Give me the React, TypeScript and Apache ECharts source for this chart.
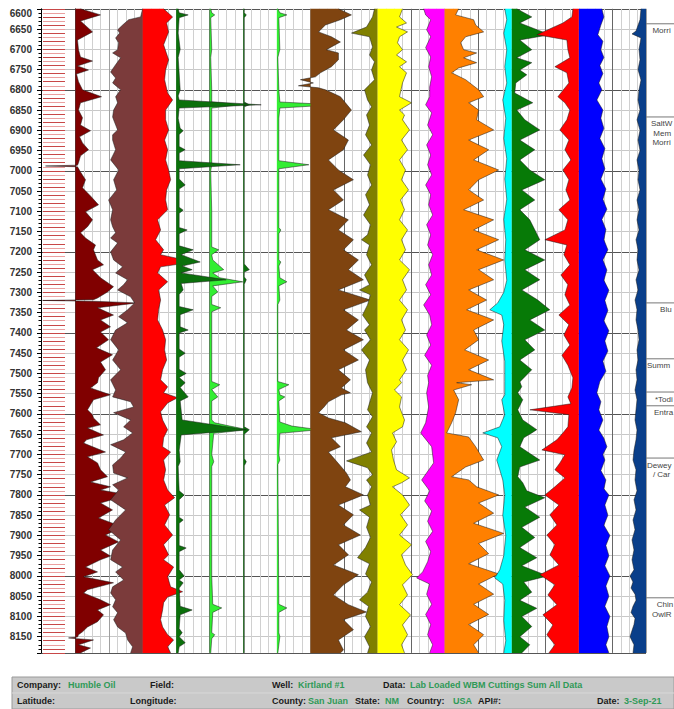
import React, { useEffect, useRef } from 'react';
import * as echarts from 'echarts';

// ---------- depth range ----------
const DEPTH_TOP = 6600;
const DEPTH_BOTTOM = 8190;

// ---------- curve data: [depth (ft), reading] ----------
const maroonCurve = [[6600,5],[6615,25],[6630,5],[6657,17],[6677,2],[6701,3],[6719,5],[6729,17],[6741,2],[6751,13],[6761,1],[6780,3],[6800,7],[6817,26],[6832,5],[6850,3],[6869,7],[6887,5],[6901,15],[6916,4],[6931,7],[6948,13],[6963,5],[6980,3],[6986,2],[6988,-30],[6990,2],[7003,5],[7022,10],[7042,7],[7062,15],[7084,23],[7101,10],[7121,17],[7138,12],[7153,5],[7166,10],[7183,20],[7195,18],[7220,22],[7232,28],[7244,17],[7264,25],[7286,38],[7299,32],[7314,22],[7318,18],[7320,-33],[7322,18],[7326,62],[7338,22],[7356,38],[7368,25],[7385,35],[7398,25],[7417,33],[7437,21],[7454,37],[7472,25],[7491,30],[7511,23],[7523,22],[7536,15],[7553,35],[7565,18],[7590,12],[7602,17],[7610,18],[7627,25],[7635,12],[7652,28],[7664,11],[7672,8],[7694,30],[7706,12],[7721,22],[7738,25],[7755,32],[7768,15],[7780,35],[7788,25],[7800,53],[7820,25],[7837,37],[7857,23],[7879,47],[7899,30],[7916,43],[7936,25],[7951,35],[7960,25],[7978,10],[7990,22],[8002,8],[8017,38],[8034,12],[8042,8],[8059,25],[8071,35],[8084,22],[8096,28],[8113,22],[8126,12],[8138,7],[8145,3],[8151,2],[8153,-7],[8155,2],[8158,18],[8170,3],[8178,15],[8190,5]];
const rosyCurve = [[6600,0],[6620,2],[6627,14],[6640,20],[6652,25],[6660,23],[6672,27],[6684,24],[6701,25],[6709,30],[6721,22],[6738,27],[6756,32],[6771,27],[6783,30],[6800,22],[6817,27],[6832,25],[6850,29],[6867,30],[6874,29],[6899,25],[6911,30],[6924,30],[6948,27],[6973,32],[6998,24],[7022,29],[7047,26],[7072,34],[7096,30],[7121,32],[7138,30],[7153,27],[7166,32],[7178,25],[7200,32],[7220,29],[7237,20],[7252,27],[7269,15],[7281,19],[7294,25],[7311,12],[7326,8],[7343,15],[7360,24],[7375,15],[7393,27],[7417,32],[7442,24],[7467,30],[7491,22],[7516,32],[7541,27],[7558,30],[7570,12],[7583,9],[7597,29],[7615,12],[7632,19],[7647,10],[7664,19],[7676,32],[7694,17],[7709,22],[7726,30],[7746,29],[7758,15],[7775,30],[7788,24],[7812,32],[7837,17],[7862,27],[7886,34],[7911,22],[7936,30],[7960,32],[7978,20],[7990,27],[8010,19],[8027,30],[8042,32],[8059,27],[8076,30],[8091,25],[8108,29],[8126,25],[8141,17],[8158,15],[8175,10],[8190,12]];
const redCurve = [[6600,21],[6620,30],[6635,24],[6657,26],[6689,21],[6726,26],[6751,23],[6775,22],[6808,25],[6825,30],[6850,23],[6874,23],[6899,26],[6924,22],[6948,25],[6973,23],[6998,26],[7022,28],[7047,24],[7072,23],[7096,25],[7121,15],[7146,18],[7170,13],[7195,21],[7207,18],[7225,51],[7237,18],[7252,15],[7274,25],[7294,16],[7319,18],[7343,16],[7368,15],[7393,20],[7417,23],[7442,22],[7467,24],[7491,20],[7516,18],[7533,25],[7548,21],[7560,35],[7573,25],[7595,18],[7615,20],[7639,25],[7659,21],[7681,20],[7694,28],[7714,21],[7738,23],[7763,21],[7788,25],[7807,32],[7825,22],[7849,27],[7874,22],[7899,30],[7923,21],[7948,26],[7960,21],[7978,31],[8002,25],[8027,28],[8039,40],[8052,25],[8066,21],[8084,20],[8108,18],[8126,20],[8145,25],[8158,31],[8175,25],[8190,28]];
const darkGreenCurve1 = [[6600,2],[6610,3],[6615,12],[6622,3],[6660,2],[6700,4],[6720,2],[6800,4],[6815,2],[6825,3],[6837,85],[6845,3],[6870,2],[6895,4],[6901,7],[6910,3],[6940,3],[6948,9],[6956,3],[6975,3],[6985,64],[6995,3],[7020,3],[7035,9],[7045,3],[7090,3],[7097,7],[7105,3],[7140,3],[7146,11],[7155,3],[7185,3],[7195,17],[7207,5],[7225,24],[7235,6],[7244,16],[7252,5],[7269,50],[7278,5],[7294,7],[7305,3],[7335,3],[7343,17],[7355,4],[7385,4],[7393,12],[7400,3],[7440,3],[7450,9],[7460,3],[7490,3],[7500,10],[7510,3],[7523,9],[7535,4],[7558,12],[7568,4],[7615,6],[7639,70],[7652,5],[7690,3],[7718,4],[7730,2],[7790,3],[7800,8],[7812,3],[7855,3],[7862,7],[7870,3],[7925,3],[7931,10],[7940,3],[7985,3],[8000,8],[8010,3],[8017,7],[8030,3],[8075,4],[8084,16],[8096,4],[8130,3],[8140,6],[8150,3],[8165,9],[8175,3],[8190,2]];
const lightGreenCurve1 = [[6600,1],[6610,2],[6615,5],[6622,1],[6700,2],[6720,1],[6800,2],[6830,2],[6837,30],[6845,2],[6985,2],[7000,1],[7100,2],[7188,2],[7195,9],[7207,2],[7220,3],[7244,14],[7252,3],[7264,10],[7274,33],[7284,3],[7299,8],[7310,2],[7330,2],[7338,11],[7348,2],[7400,2],[7520,2],[7528,10],[7540,2],[7558,8],[7568,2],[7615,2],[7622,5],[7630,20],[7639,38],[7648,4],[7700,2],[7718,4],[7730,2],[7900,2],[8000,2],[8070,3],[8079,12],[8090,3],[8140,2],[8145,5],[8155,2],[8190,1]];
const darkGreenCurve2 = [[6600,1],[6610,1],[6615,3],[6622,1],[6830,1],[6837,6],[6842,1],[7230,1],[7244,6],[7250,1],[7262,1],[7269,3],[7280,1],[7632,1],[7639,6],[7650,1],[7710,1],[7718,3],[7728,1],[8190,1]];
const lightGreenCurve2 = [[6600,1],[6610,3],[6615,10],[6622,2],[6700,3],[6720,1],[6800,2],[6830,3],[6837,57],[6845,3],[6870,2],[6975,2],[6985,32],[6995,2],[7140,2],[7146,4],[7155,2],[7220,2],[7225,4],[7235,2],[7264,3],[7274,10],[7284,2],[7319,3],[7330,1],[7520,1],[7528,12],[7540,2],[7553,3],[7558,8],[7568,2],[7620,3],[7630,15],[7639,42],[7648,3],[7700,2],[7714,3],[7725,1],[8070,2],[8079,10],[8090,2],[8140,2],[8150,3],[8190,1]];
const brownCurve = [[6600,28],[6615,41],[6627,30],[6640,15],[6657,8],[6669,21],[6682,30],[6694,21],[6701,16],[6709,28],[6726,28],[6743,21],[6758,10],[6768,5],[6775,-10],[6783,3],[6790,-12],[6795,8],[6800,15],[6817,30],[6832,35],[6850,41],[6874,33],[6899,23],[6924,38],[6948,33],[6973,18],[6998,28],[7022,43],[7047,23],[7072,33],[7096,18],[7121,38],[7146,28],[7170,43],[7195,33],[7220,48],[7244,38],[7269,53],[7294,28],[7319,60],[7343,33],[7368,48],[7393,36],[7417,53],[7442,33],[7467,48],[7491,28],[7516,40],[7536,31],[7548,40],[7553,31],[7570,18],[7585,13],[7597,8],[7610,18],[7622,35],[7644,51],[7659,21],[7681,30],[7694,18],[7714,25],[7731,31],[7746,36],[7763,40],[7780,35],[7800,53],[7825,28],[7849,43],[7874,33],[7899,50],[7923,28],[7948,38],[7973,23],[7997,48],[8022,33],[8047,23],[8071,38],[8089,56],[8108,33],[8133,43],[8158,28],[8183,33],[8190,30]];
const oliveCurve = [[6600,3],[6620,5],[6645,11],[6660,26],[6669,8],[6694,5],[6714,8],[6731,3],[6751,6],[6775,3],[6800,13],[6825,10],[6842,6],[6862,11],[6887,8],[6911,12],[6936,6],[6961,14],[6985,7],[7010,10],[7035,6],[7059,12],[7084,8],[7109,14],[7133,7],[7158,10],[7170,16],[7183,8],[7207,11],[7232,6],[7257,13],[7281,8],[7294,18],[7306,7],[7331,10],[7356,15],[7380,8],[7393,13],[7417,7],[7442,16],[7467,8],[7491,12],[7523,10],[7548,5],[7573,8],[7590,10],[7607,5],[7632,11],[7647,6],[7672,11],[7694,6],[7716,31],[7733,10],[7750,5],[7763,11],[7780,6],[7800,10],[7825,7],[7837,18],[7855,8],[7880,11],[7905,7],[7930,12],[7955,20],[7970,8],[7995,12],[8015,6],[8040,10],[8059,18],[8075,9],[8100,12],[8125,7],[8150,13],[8175,8],[8190,10]];
const yellowCurve = [[6600,25],[6620,22],[6635,29],[6645,19],[6657,30],[6669,22],[6684,20],[6701,25],[6714,19],[6731,29],[6743,22],[6758,29],[6783,25],[6817,22],[6832,34],[6850,22],[6862,27],[6874,25],[6899,32],[6924,24],[6948,30],[6973,22],[6998,28],[7022,24],[7047,31],[7072,23],[7096,27],[7121,22],[7146,30],[7170,24],[7195,28],[7220,22],[7244,32],[7269,25],[7294,29],[7319,22],[7343,30],[7368,24],[7393,28],[7417,22],[7442,31],[7467,25],[7491,29],[7516,22],[7523,24],[7541,17],[7558,24],[7583,22],[7615,27],[7632,25],[7647,15],[7669,19],[7689,14],[7714,16],[7738,19],[7758,32],[7770,24],[7780,15],[7800,25],[7825,32],[7849,23],[7874,30],[7899,22],[7923,34],[7948,24],[7973,28],[7997,35],[8022,25],[8047,30],[8071,22],[8096,33],[8121,25],[8145,30],[8170,24],[8190,27]];
const magentaCurve = [[6600,21],[6615,19],[6627,14],[6652,18],[6669,14],[6696,19],[6719,14],[6743,16],[6768,13],[6793,15],[6817,15],[6837,19],[6857,13],[6887,17],[6911,12],[6936,18],[6961,14],[6985,17],[7010,13],[7035,19],[7059,14],[7084,16],[7109,12],[7133,18],[7158,14],[7183,17],[7207,12],[7232,16],[7257,13],[7281,19],[7306,14],[7331,21],[7356,15],[7380,13],[7405,18],[7430,14],[7455,20],[7480,13],[7505,17],[7523,16],[7548,18],[7583,16],[7622,19],[7647,24],[7681,13],[7721,11],[7763,23],[7790,15],[7815,20],[7840,13],[7865,17],[7890,12],[7915,19],[7940,14],[7965,17],[7990,22],[8005,28],[8020,15],[8045,18],[8070,13],[8095,19],[8120,14],[8145,17],[8170,12],[8190,15]];
const orangeCurve = [[6600,14],[6615,11],[6627,29],[6640,31],[6657,39],[6669,21],[6684,16],[6701,19],[6709,32],[6721,19],[6733,32],[6746,14],[6758,7],[6775,21],[6800,34],[6817,39],[6832,24],[6850,34],[6874,32],[6899,49],[6924,24],[6948,44],[6973,29],[6998,54],[7022,34],[7047,24],[7072,39],[7096,19],[7121,49],[7146,29],[7170,54],[7195,32],[7220,59],[7244,34],[7269,49],[7294,24],[7319,42],[7343,22],[7368,49],[7393,29],[7417,34],[7442,20],[7467,44],[7491,24],[7516,49],[7523,12],[7528,27],[7541,9],[7565,14],[7597,11],[7622,7],[7647,2],[7657,24],[7681,31],[7714,39],[7731,21],[7755,7],[7763,24],[7780,32],[7800,54],[7820,34],[7845,49],[7870,29],[7895,59],[7920,34],[7945,44],[7970,24],[7995,54],[8020,34],[8045,49],[8070,29],[8095,44],[8120,24],[8145,39],[8170,29],[8190,34]];
const cyanCurve = [[6600,7],[6627,5],[6660,8],[6701,5],[6743,7],[6783,5],[6825,9],[6870,6],[6920,8],[6970,5],[7020,7],[7070,5],[7120,8],[7170,6],[7220,7],[7270,5],[7300,8],[7326,14],[7343,22],[7356,10],[7380,8],[7420,10],[7470,7],[7520,7],[7553,7],[7565,10],[7602,7],[7632,12],[7647,29],[7659,14],[7681,10],[7714,15],[7738,12],[7763,9],[7800,7],[7850,9],[7900,6],[7950,8],[7985,12],[8005,17],[8020,9],[8060,7],[8110,8],[8160,6],[8190,8]];
const greenCurve = [[6600,5],[6620,20],[6635,8],[6664,38],[6677,8],[6701,20],[6721,5],[6733,20],[6751,8],[6763,15],[6783,4],[6808,3],[6832,21],[6850,5],[6874,13],[6899,28],[6924,8],[6948,23],[6973,8],[6998,18],[7022,33],[7047,10],[7072,23],[7096,8],[7121,18],[7170,28],[7195,13],[7220,33],[7244,13],[7269,28],[7294,10],[7319,26],[7343,38],[7368,18],[7393,33],[7417,13],[7442,23],[7467,8],[7491,20],[7521,8],[7533,10],[7548,6],[7565,11],[7590,6],[7615,11],[7639,25],[7647,20],[7659,12],[7681,8],[7714,28],[7731,8],[7755,6],[7770,11],[7790,15],[7807,33],[7830,13],[7855,28],[7880,10],[7905,23],[7930,8],[7955,25],[7975,10],[8000,36],[8015,12],[8040,20],[8060,8],[8080,25],[8100,10],[8125,20],[8150,8],[8170,18],[8190,10]];
const red2Curve = [[6600,6],[6620,7],[6635,16],[6664,42],[6677,12],[6701,11],[6721,9],[6743,24],[6758,12],[6783,10],[6817,21],[6832,14],[6850,9],[6874,12],[6899,19],[6924,10],[6948,14],[6973,8],[6998,16],[7022,10],[7047,13],[7072,9],[7096,20],[7121,11],[7146,14],[7170,34],[7183,12],[7207,15],[7232,9],[7257,18],[7281,11],[7306,14],[7331,9],[7356,20],[7380,10],[7405,15],[7430,9],[7455,17],[7480,11],[7511,6],[7536,7],[7558,11],[7575,8],[7590,49],[7602,10],[7632,11],[7647,16],[7664,22],[7689,37],[7701,14],[7721,19],[7738,24],[7758,14],[7780,24],[7800,34],[7825,20],[7849,29],[7874,22],[7899,32],[7923,24],[7948,29],[7973,20],[7997,39],[8022,24],[8047,31],[8071,22],[8096,36],[8121,26],[8145,32],[8170,24],[8190,30]];
const blueCurve = [[6600,23],[6620,25],[6640,22],[6664,19],[6680,24],[6701,22],[6720,25],[6740,21],[6760,24],[6783,20],[6800,23],[6825,18],[6850,24],[6870,22],[6895,25],[6920,21],[6945,26],[6970,23],[6995,26],[7020,22],[7045,27],[7070,24],[7095,28],[7120,23],[7145,27],[7170,25],[7195,29],[7220,24],[7245,28],[7270,25],[7295,30],[7320,26],[7345,29],[7370,25],[7395,30],[7420,26],[7445,29],[7470,24],[7495,27],[7520,21],[7548,18],[7570,22],[7590,20],[7615,24],[7640,20],[7660,25],[7681,28],[7700,24],[7714,26],[7740,22],[7763,27],[7785,25],[7800,30],[7825,26],[7850,29],[7875,25],[7900,31],[7925,27],[7950,30],[7975,26],[8000,31],[8025,27],[8050,30],[8075,26],[8100,31],[8125,28],[8150,30],[8170,27],[8190,30]];
const navyCurve = [[6600,5],[6627,6],[6655,10],[6662,14],[6672,5],[6700,7],[6726,6],[6750,8],[6776,5],[6800,7],[6825,8],[6850,6],[6874,9],[6900,6],[6924,8],[6950,6],[6973,9],[7000,7],[7022,8],[7047,6],[7072,9],[7096,7],[7121,9],[7146,7],[7170,10],[7195,8],[7220,9],[7245,7],[7269,10],[7294,8],[7319,11],[7343,9],[7368,10],[7393,8],[7417,7],[7442,9],[7467,8],[7491,10],[7516,9],[7541,11],[7565,9],[7590,10],[7615,11],[7640,9],[7664,10],[7690,12],[7714,13],[7738,10],[7763,11],[7790,9],[7812,12],[7837,10],[7862,13],[7886,11],[7911,14],[7936,12],[7960,14],[7985,12],[8000,16],[8015,13],[8030,15],[8045,11],[8060,10],[8075,13],[8090,15],[8105,11],[8120,12],[8135,14],[8150,16],[8170,12],[8190,13]];

// ---------- formation tops ----------
const formationDepths = [6637, 6867, 7326, 7464, 7546, 7580, 7709, 8054];
const formationNames = [['Morrison'], ['SaltWash', 'Member', 'Morrison'], ['Bluff'], ['Summerville'], ['*Todilto'], ['Entrada'], ['DeweyBridge', '/ Carmel'], ['Chinle', 'OwlRock']];

// ---------- header ----------
const headerLabels1 = ['Company:', 'Field:', 'Well:', 'Data:'];
const headerValues1 = ['Humble Oil', '', 'Kirtland #1', 'Lab Loaded WBM Cuttings Sum All Data'];
const headerLabels2 = ['Latitude:', 'Longitude:', 'County:', 'State:', 'Country:', 'API#:', 'Date:'];
const headerValues2 = ['', '', 'San Juan', 'NM', 'USA', '', '3-Sep-21'];

// ---------- layout ----------
const W = 674;
const H = 709;
const PLOT_TOP = 8.8;
const PLOT_BOTTOM = 56.1;
const DEPTH_AXIS_X = 41;
const TRACK_X0 = 75.5;
const RIGHT_GAP = 28;
const COL = (W - RIGHT_GAP - TRACK_X0) / 17;
const CURVE_SPAN = 100;

const curveDefs = [
  { data: maroonCurve, color: '#800000', col: 0, dir: 1 },
  { data: rosyCurve, color: '#7b3b3b', col: 2, dir: -1 },
  { data: redCurve, color: '#ff0000', col: 2, dir: 1 },
  { data: lightGreenCurve1, color: '#33ee33', col: 4, dir: 1 },
  { data: lightGreenCurve2, color: '#33ee33', col: 6, dir: 1 },
  { data: darkGreenCurve2, color: '#0b700b', col: 5, dir: 1 },
  { data: darkGreenCurve1, color: '#0b700b', col: 3, dir: 1 },
  { data: brownCurve, color: '#7f4410', col: 7, dir: 1 },
  { data: oliveCurve, color: '#808000', col: 9, dir: -1 },
  { data: yellowCurve, color: '#ffff00', col: 9, dir: 1 },
  { data: magentaCurve, color: '#ff00ff', col: 11, dir: -1 },
  { data: orangeCurve, color: '#ff8000', col: 11, dir: 1 },
  { data: cyanCurve, color: '#00ffff', col: 13, dir: -1 },
  { data: greenCurve, color: '#077a07', col: 13, dir: 1 },
  { data: red2Curve, color: '#ff0000', col: 15, dir: -1 },
  { data: blueCurve, color: '#0000ff', col: 15, dir: 1 },
  { data: navyCurve, color: '#0a3f8a', col: 17, dir: -1 },
];

const NARROW = "'Liberation Sans Narrow', 'Arial Narrow', 'Liberation Sans', Arial, sans-serif";
const SANS = "'Liberation Sans', Arial, sans-serif";

let measureCtx: CanvasRenderingContext2D | null = null;
function textWidth(t: string, font: string) {
  if (!measureCtx) measureCtx = document.createElement('canvas').getContext('2d');
  if (!measureCtx) return t.length * 3.7;
  measureCtx.font = font;
  return measureCtx.measureText(t).width;
}

function buildOption() {
  const grids: any[] = [];
  const xAxes: any[] = [];
  const yAxes: any[] = [];
  const series: any[] = [];

  const hiddenY = (g: number) => ({
    type: 'value', gridIndex: g, min: DEPTH_TOP, max: DEPTH_BOTTOM, inverse: true, show: false,
  });

  // grid 0: depth axis + horizontal grid lines
  grids.push({ left: DEPTH_AXIS_X, right: RIGHT_GAP, top: PLOT_TOP, bottom: PLOT_BOTTOM, outerBoundsMode: 'none' });
  xAxes.push({ type: 'value', gridIndex: 0, min: 0, max: 1, show: false });
  yAxes.push({
    type: 'value', gridIndex: 0, min: DEPTH_TOP, max: DEPTH_BOTTOM, inverse: true, interval: 50,
    position: 'left',
    axisLine: { show: true, lineStyle: { color: '#000', width: 1 } },
    axisTick: { show: true, length: 4, lineStyle: { color: '#000' } },
    minorTick: { show: true, splitNumber: 5, length: 2.5, lineStyle: { color: '#000' } },
    axisLabel: {
      show: true, margin: 9, color: '#333', fontSize: 10, fontWeight: 'bold', fontFamily: NARROW,
      showMaxLabel: false, verticalAlignMinLabel: 'top',
      formatter: (v: number) => String(Math.round(v)),
    },
    splitLine: { show: true, lineStyle: { color: ['#555', '#c8c8c8', '#c8c8c8', '#c8c8c8'], width: 1 } },
  });

  // grid 1: track vertical grid lines
  grids.push({ left: TRACK_X0, right: RIGHT_GAP, top: PLOT_TOP, bottom: PLOT_BOTTOM, outerBoundsMode: 'none' });
  xAxes.push({
    type: 'value', gridIndex: 1, min: 0, max: 17, interval: 1, position: 'top',
    axisLine: { show: false }, axisTick: { show: false }, axisLabel: { show: false },
    minorTick: { show: false, splitNumber: 4 },
    splitLine: { show: true, lineStyle: { color: ['#666', '#a0a0a0'], width: 1 } },
    minorSplitLine: { show: true, lineStyle: { color: '#d0d0d0', width: 1 } },
  });
  yAxes.push({
    type: 'value', gridIndex: 1, min: DEPTH_TOP, max: DEPTH_BOTTOM, inverse: true, position: 'right',
    axisLine: { show: true, lineStyle: { color: '#444', width: 1 } },
    axisTick: { show: false }, axisLabel: { show: false }, splitLine: { show: false },
  });

  // grid 2: sample interval marks
  grids.push({ left: 43, width: 22, top: PLOT_TOP, bottom: PLOT_BOTTOM, outerBoundsMode: 'none' });
  xAxes.push({ type: 'value', gridIndex: 2, min: 0, max: 1, show: false });
  yAxes.push({
    type: 'value', gridIndex: 2, min: DEPTH_TOP, max: DEPTH_BOTTOM, inverse: true, interval: 20,
    position: 'left',
    axisLine: { show: false },
    axisTick: { show: true, inside: true, length: 22, lineStyle: { color: '#c84848', width: 1 } },
    minorTick: { show: true, splitNumber: 2, length: 22, lineStyle: { color: '#eaa0a0', width: 1 } },
    axisLabel: { show: false }, splitLine: { show: false },
  });

  // curve grids
  curveDefs.forEach((c, i) => {
    const g = 3 + i;
    const base = TRACK_X0 + c.col * COL;
    grids.push({
      left: c.dir > 0 ? base : base - CURVE_SPAN, width: CURVE_SPAN,
      top: PLOT_TOP, bottom: PLOT_BOTTOM, outerBoundsMode: 'none',
    });
    xAxes.push({ type: 'value', gridIndex: g, min: 0, max: CURVE_SPAN, inverse: c.dir < 0, show: false });
    yAxes.push(hiddenY(g));
    const pts = c.data;
    series.push({
      type: 'custom', xAxisIndex: g, yAxisIndex: g, clip: false, silent: true, z: 3,
      data: [[0, DEPTH_TOP]],
      renderItem: (params: any, api: any) => {
        const line = pts.map((p) => api.coord([p[1], p[0]]));
        const b0 = api.coord([0, pts[0][0]]);
        const b1 = api.coord([0, pts[pts.length - 1][0]]);
        return {
          type: 'group',
          children: [
            { type: 'polygon', shape: { points: [b0, ...line, b1] }, style: { fill: c.color, stroke: null } },
            { type: 'polyline', shape: { points: line }, style: { stroke: '#1a1a1a', lineWidth: 0.6, fill: null, opacity: 0.85 } },
          ],
        };
      },
    });
  });

  // formation tops (right panel), drawn against the depth axis;
  // names run off the page edge as in the source, so only the visible part is written
  const FORM_FONT_SIZE = 8;
  const formFont = `${FORM_FONT_SIZE}px ${NARROW}`;
  series.push({
    type: 'custom', xAxisIndex: 0, yAxisIndex: 0, clip: false, silent: true, z: 4,
    data: formationDepths.map((d, i) => [0, d, i]),
    renderItem: (params: any, api: any) => {
      const depth = api.value(1);
      const idx = api.value(2);
      const y = api.coord([0, depth])[1];
      const cs = params.coordSys;
      const x0 = cs.x + cs.width;
      const center = x0 + 22;
      const children: any[] = [
        { type: 'line', shape: { x1: x0, y1: y, x2: W, y2: y }, style: { stroke: '#777', lineWidth: 1 } },
      ];
      formationNames[idx].forEach((t, k) => {
        const tw = textWidth(t, formFont);
        const left = Math.max(x0 + 1, center - tw / 2);
        let shown = t;
        while (shown.length > 1 && left + textWidth(shown, formFont) > W - 0.5) shown = shown.slice(0, -1);
        children.push({
          type: 'text', x: left, y: y + 3 + k * 9.5,
          style: {
            text: shown, fill: '#444', fontSize: FORM_FONT_SIZE, fontFamily: NARROW,
            align: 'left', verticalAlign: 'top',
          },
        });
      });
      return { type: 'group', children };
    },
  });

  // header band
  const labelStyle = { fill: '#1a1a1a', fontSize: 9, fontWeight: 'bold', fontFamily: SANS, verticalAlign: 'middle' };
  const valueStyle = { ...labelStyle, fill: '#2f9a57' };
  const row1LabelX = [17, 150, 272, 383];
  const row1ValueX = [68, 0, 298, 410];
  const row2LabelX = [17, 130, 272, 355, 407, 478, 597];
  const row2ValueX = [0, 0, 308, 385, 453, 0, 624];
  const graphic: any[] = [
    { type: 'rect', shape: { x: 12, y: 677, width: 662, height: 32 }, style: { fill: '#c9c9c9', stroke: '#9a9a9a', lineWidth: 1 } },
    { type: 'line', shape: { x1: 12, y1: 693, x2: 674, y2: 693 }, style: { stroke: '#d8d8d8', lineWidth: 1 } },
  ];
  headerLabels1.forEach((t, i) => {
    graphic.push({ type: 'text', x: row1LabelX[i], y: 685, style: { ...labelStyle, text: t } });
    if (headerValues1[i]) graphic.push({ type: 'text', x: row1ValueX[i], y: 685, style: { ...valueStyle, text: headerValues1[i] } });
  });
  headerLabels2.forEach((t, i) => {
    graphic.push({ type: 'text', x: row2LabelX[i], y: 701, style: { ...labelStyle, text: t } });
    if (headerValues2[i]) graphic.push({ type: 'text', x: row2ValueX[i], y: 701, style: { ...valueStyle, text: headerValues2[i] } });
  });

  return {
    animation: false,
    backgroundColor: '#ffffff',
    grid: grids,
    xAxis: xAxes,
    yAxis: yAxes,
    series,
    graphic,
  };
}

export default function App() {
  const ref = useRef<HTMLDivElement>(null);
  useEffect(() => {
    if (!ref.current) return;
    const chart = echarts.init(ref.current, undefined, { renderer: 'svg' });
    chart.setOption(buildOption() as any);
    return () => chart.dispose();
  }, []);
  return <div ref={ref} style={{ position: 'absolute', left: 0, top: 0, width: W, height: H }} />;
}
